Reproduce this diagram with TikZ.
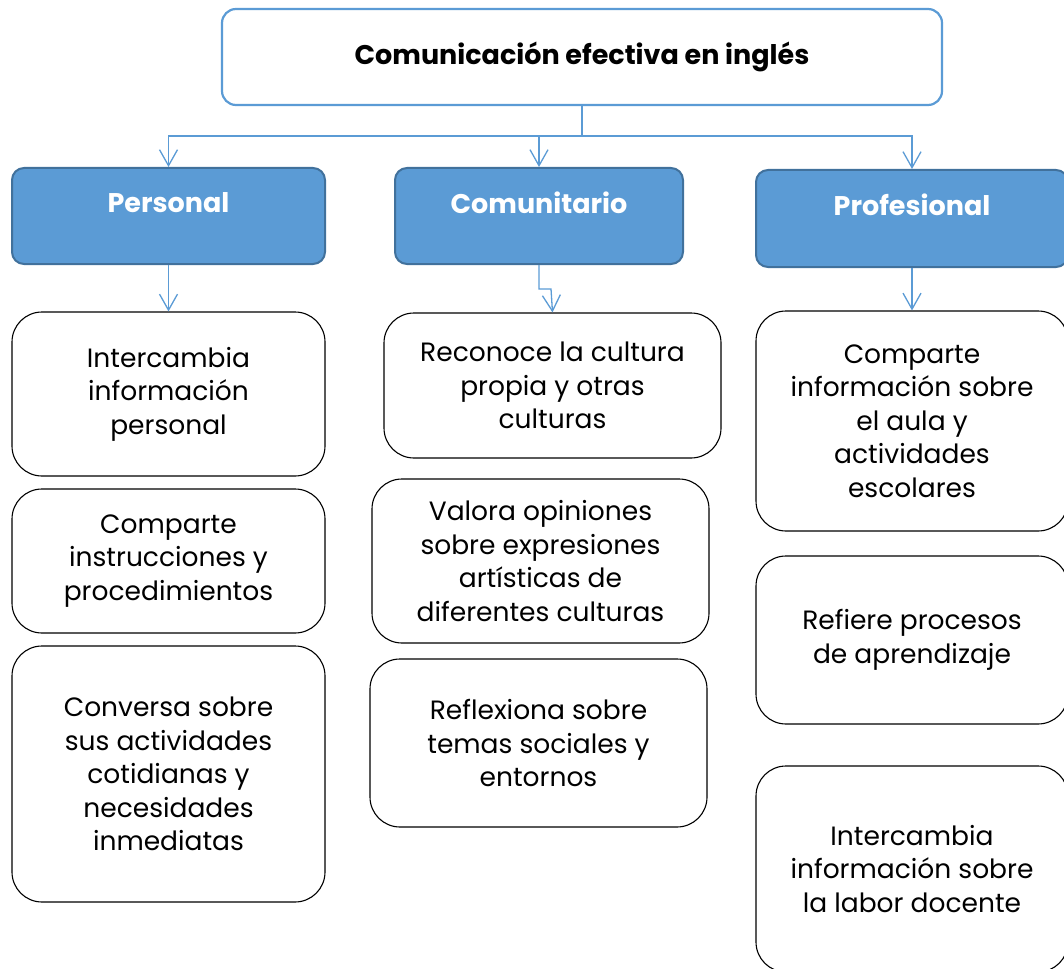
\documentclass[tikz,border=0pt]{standalone}
\usepackage{fontspec}
\setmainfont{Poppins}
\usetikzlibrary{arrows.meta}
\definecolor{catblue}{HTML}{5B9BD5}
\definecolor{catedge}{HTML}{41719C}
\tikzset{
  topbox/.style={draw=catblue, line width=2.2pt, fill=white, rounded corners=14pt,
    minimum width=720pt, minimum height=96pt, font=\fontsize{27}{32}\selectfont\bfseries},
  catbox/.style={draw=catedge, line width=2pt, fill=catblue, rounded corners=12pt,
    text=white, font=\fontsize{27}{32}\selectfont\bfseries},
  itembox/.style={draw=black, line width=1.1pt, fill=white, rounded corners=30pt,
    align=center, font=\fontsize{26.5}{33.5}\selectfont},
  link/.style={draw=catblue, line width=1.3pt, -{Straight Barb[length=16pt,width=18pt]}}
}
\begin{document}
\begin{tikzpicture}[x=1pt,y=-1pt]
\useasboundingbox (0,0) rectangle (1064,968);
% title
\node[topbox] (top) at (582,57) {Comunicación efectiva en inglés};
% categories
\node[catbox, minimum width=313pt, minimum height=96pt] (personal) at (168.5,216) {\raisebox{27pt}{Personal}};
\node[catbox, minimum width=288pt, minimum height=96pt] (comunitario) at (539,216) {\raisebox{27pt}{Comunitario}};
\node[catbox, minimum width=312pt, minimum height=97pt] (profesional) at (912,218.5) {\raisebox{27pt}{Profesional}};
% Personal
\node[itembox, minimum width=313pt, minimum height=164pt] (p1) at (168.5,394) {Intercambia\\información\\personal};
\node[itembox, minimum width=313pt, minimum height=144pt] (p2) at (168.5,561) {Comparte\\instrucciones y\\procedimientos};
\node[itembox, minimum width=313pt, minimum height=256pt] (p3) at (168.5,774) {Conversa sobre\\sus actividades\\cotidianas y\\necesidades\\inmediatas};
% Comunitario
\node[itembox, minimum width=337pt, minimum height=145pt] (c1) at (552.5,385.5) {Reconoce la cultura\\propia y otras\\culturas};
\node[itembox, minimum width=337pt, minimum height=164pt] (c2) at (540.5,561) {Valora opiniones\\sobre expresiones\\artísticas de\\diferentes culturas};
\node[itembox, minimum width=337pt, minimum height=168pt] (c3) at (538.5,743) {Reflexiona sobre\\temas sociales y\\entornos};
% Profesional
\node[itembox, minimum width=312pt, minimum height=220pt] (f1) at (912,421) {Comparte\\información sobre\\el aula y\\actividades\\escolares};
\node[itembox, minimum width=312pt, minimum height=168pt] (f2) at (912,640) {Refiere procesos\\de aprendizaje};
\node[itembox, minimum width=312pt, minimum height=206pt] (f3) at (912,869) {Intercambia\\información sobre\\la labor docente};
% connectors
\coordinate (bus) at (582,136);
\draw[catblue, line width=1.3pt] (top.south -| bus) -- (bus);
\draw[link] (bus) -| (personal.north);
\draw[link] (bus) -| (comunitario.north);
\draw[link] (bus) -| (profesional.north);
\draw[link] (personal.south) -- (personal.south |- p1.north);
\draw[link] (comunitario.south) |- ++(12,24) -- (c1.north);
\draw[link] (profesional.south) -- (profesional.south |- f1.north);
\end{tikzpicture}
\end{document}
